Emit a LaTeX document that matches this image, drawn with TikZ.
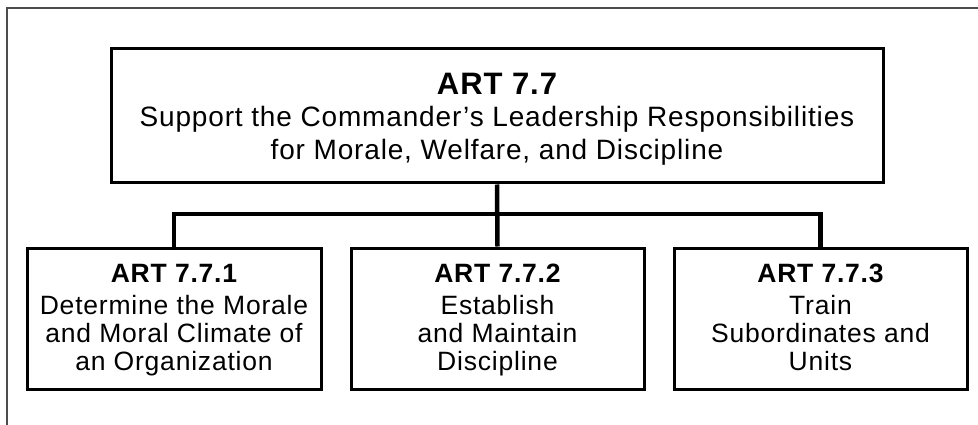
\documentclass[tikz,border=0pt]{standalone}
\usepackage{fontspec}
\setmainfont{Liberation Sans}[LetterSpace=3]
\begin{document}
\begin{tikzpicture}[x=1pt,y=-1pt,
  outerframe/.style={draw=black!70, line width=1.6pt},
  box/.style={draw=black, line width=3pt, rectangle, inner sep=0pt},
  txt/.style={align=center, inner sep=0pt, anchor=north},
  conn/.style={draw=black, line width=4.5pt}]
\useasboundingbox (0,0) rectangle (978,425);
\draw[outerframe] (7,425) -- (7,8) -- (978,8);

\node[box, minimum width=772pt, minimum height=134pt] (tb) at (497,116) {};
\node[box, minimum width=294pt, minimum height=141pt] (lb) at (174,318.5) {};
\node[box, minimum width=293pt, minimum height=141pt] (mb) at (497.5,318.5) {};
\node[box, minimum width=293pt, minimum height=141pt] (rb) at (820.5,318.5) {};

\node[txt, font=\fontsize{28}{32.5}\selectfont] (tbt) at (497,72.8)
  {{\fontsize{31}{32.5}\selectfont\bfseries ART 7.7}\\
   Support the Commander’s Leadership Responsibilities\\
   for Morale, Welfare, and Discipline};
\node[txt, font=\fontsize{26.5}{28}\selectfont] (lbt) at (174,264)
  {{\bfseries ART 7.7.1}\\[4pt]
   Determine the Morale\\ and Moral Climate of\\ an Organization};
\node[txt, font=\fontsize{26.5}{28}\selectfont] (mbt) at (497.5,264)
  {{\bfseries ART 7.7.2}\\[4pt]
   Establish\\ and Maintain\\ Discipline};
\node[txt, font=\fontsize{26.5}{28}\selectfont] (rbt) at (820.5,264)
  {{\bfseries ART 7.7.3}\\[4pt]
   Train\\ Subordinates and\\ Units};

\coordinate (bus) at (497,214);
\draw[conn] (tb.south) -- (mb.north);
\draw[conn] (lb.north) |- (bus) -| (rb.north);
\end{tikzpicture}
\end{document}
